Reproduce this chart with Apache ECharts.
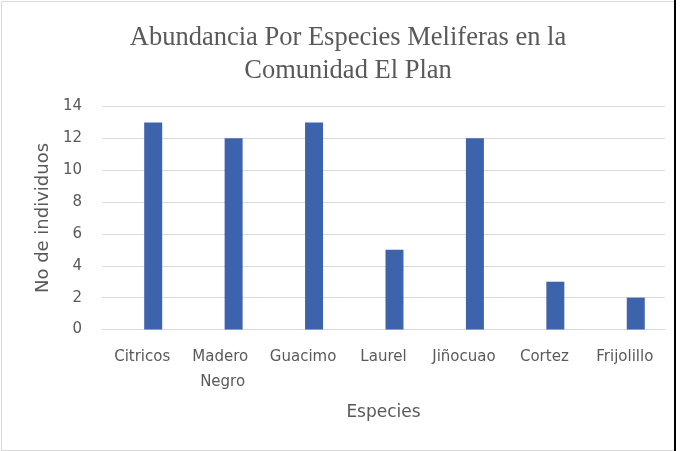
<!DOCTYPE html>
<html>
<head>
<meta charset="utf-8">
<script src="https://cdn.jsdelivr.net/npm/echarts@6/dist/echarts.min.js"></script>
<style>
  html, body { margin: 0; padding: 0; background: #fff; }
  #wrap { position: relative; width: 683px; height: 451px; }
  #main { width: 683px; height: 451px; }
  #frame { position: absolute; left: 1px; top: 1px; width: 672px; height: 448px;
           border: 1px solid #d9d9d9; border-right: none; pointer-events: none; }
  #edge { position: absolute; left: 674px; top: 0; width: 2px; height: 451px;
          background: #000; pointer-events: none; }
</style>
</head>
<body>
<div id="wrap">
  <div id="main"></div>
  <div id="frame"></div>
  <div id="edge"></div>
</div>
<script>
const categories = ["Citricos", "Madero Negro", "Guacimo", "Laurel", "Jiñocuao", "Cortez", "Frijolillo"];
const individuos = [13, 12, 13, 5, 12, 3, 2];
const yTicks = { min: 0, max: 14, step: 2 };

const chart = echarts.init(document.getElementById("main"));

const option = {
  animation: false,
  title: {
    text: "Abundancia Por Especies Meliferas en la\nComunidad El Plan",
    left: 343,
    textAlign: "center",
    top: 17,
    textStyle: {
      fontFamily: "Liberation Serif",
      fontWeight: "normal",
      fontSize: 26.5,
      lineHeight: 33,
      color: "#595959",
    },
  },
  grid: { left: 102, right: 18, top: 106.5, bottom: 121.5 },
  xAxis: {
    type: "category",
    data: categories,
    name: "Especies",
    nameLocation: "middle",
    nameGap: 75,
    nameTextStyle: { fontFamily: "DejaVu Sans", fontSize: 17, color: "#595959" },
    axisLine: { lineStyle: { color: "#d9d9d9", width: 1 } },
    axisTick: { show: false },
    axisLabel: {
      interval: 0,
      margin: 15,
      width: 76,
      overflow: "break",
      lineHeight: 25,
      fontFamily: "DejaVu Sans",
      fontSize: 15,
      color: "#595959",
    },
  },
  yAxis: {
    type: "value",
    min: yTicks.min,
    max: yTicks.max,
    interval: yTicks.step,
    name: "No de individuos",
    nameLocation: "middle",
    nameGap: 50,
    nameTextStyle: { fontFamily: "DejaVu Sans", fontSize: 18, color: "#595959" },
    axisLine: { show: false },
    axisTick: { show: false },
    axisLabel: { margin: 20, fontFamily: "DejaVu Sans", fontSize: 15, color: "#595959" },
    splitLine: { lineStyle: { color: "#d9d9d9", width: 1 } },
  },
  series: [
    // empty first series: keeps the bar shifted right like the original
    { type: "bar", data: [], barWidth: 18, barGap: "22%" },
    {
      type: "bar",
      data: individuos,
      barWidth: 18,
      barGap: "22%",
      itemStyle: { color: "#3e63ad" },
    },
  ],
};

chart.setOption(option);
</script>
</body>
</html>
